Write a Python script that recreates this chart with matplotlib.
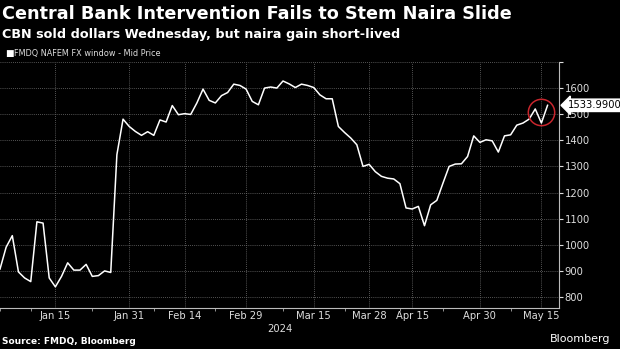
import numpy as np
import matplotlib.pyplot as plt

# FMDQ NAFEM mid price, one value per trading day (Jan 2 .. May 16, 2024)
price = [907, 991, 1035, 896, 873, 859, 1088, 1083, 873, 839,
         879, 931, 903, 903, 925, 879, 882, 900, 894, 1345,
         1481, 1453, 1434, 1419, 1433, 1419, 1478, 1470, 1533, 1498,
         1502, 1499, 1543, 1596, 1553, 1543, 1571, 1583, 1615, 1610,
         1596, 1549, 1536, 1600, 1604, 1600, 1627, 1616, 1602, 1615,
         1610, 1602, 1574, 1559, 1559, 1453, 1430, 1409, 1383, 1300,
         1308, 1280, 1262, 1255, 1252, 1234, 1141, 1137, 1147, 1073,
         1153, 1170, 1236, 1300, 1309, 1310, 1338, 1417, 1392, 1402,
         1398, 1355, 1417, 1421, 1458, 1466, 1481, 1520, 1466, 1533.99]
tick_idx = [9, 21, 30, 40, 51, 60, 67, 78, 88]
tick_labels = ["Jan 15", "Jan 31", "Feb 14", "Feb 29", "Mar 15",
               "Mar 28", "Apr 15", "Apr 30", "May 15"]
minor_idx = [0, 5, 15, 25, 35, 46, 56, 65, 72, 83]
y_ticks = [800, 900, 1000, 1100, 1200, 1300, 1400, 1500, 1600, 1700]

x = np.arange(len(price))

fig = plt.figure(figsize=(6.2, 3.49), dpi=100, facecolor="black")
ax = fig.add_axes([0, 0.1175, 0.902, 0.705], facecolor="black")

ax.plot(x, price, color="white", lw=1.1)

ax.set_xlim(0, 90.9)
ax.set_ylim(758, 1700)

ax.set_xticks(tick_idx)
ax.set_xticklabels(tick_labels)
ax.set_xticks(minor_idx, minor=True)
ax.set_yticks(y_ticks)
ax.set_yticklabels([str(v) for v in y_ticks[:-1]] + [""])

ax.yaxis.tick_right()
ax.tick_params(axis="y", colors="#dddddd", labelsize=7.2, length=3, width=0.8, pad=1)
ax.tick_params(axis="x", which="major", colors="#dddddd", labelsize=7.2, length=0, pad=2)
ax.tick_params(axis="x", which="minor", color="#aaaaaa", length=2.5, width=0.6)

ax.grid(True, color="#707070", linestyle=(0, (1, 1.5)), linewidth=0.6)
for side in ["top", "left"]:
    ax.spines[side].set_visible(False)
for side in ["right", "bottom"]:
    ax.spines[side].set_color("#bbbbbb")
    ax.spines[side].set_linewidth(0.8)

# highlight of the last moves
cx = x[-2]
cy = np.mean(price[-3:])
ax.plot([cx], [cy], marker="o", markersize=19, markerfacecolor="none",
        markeredgecolor="#c8262d", markeredgewidth=1.1, clip_on=False)

ax.annotate(f"{price[-1]:.4f}", xy=(1.0, price[-1]), xycoords=("axes fraction", "data"),
            xytext=(6, 0), textcoords="offset points", va="center", ha="left",
            fontsize=7.2, color="black",
            bbox=dict(boxstyle="larrow,pad=0.12", fc="white", ec="white"))

fig.text(0.004, 0.96, "Central Bank Intervention Fails to Stem Naira Slide",
         color="white", fontsize=12.7, fontweight="bold", va="center")
fig.text(0.004, 0.902, "CBN sold dollars Wednesday, but naira gain short-lived",
         color="white", fontsize=9.2, fontweight="bold", va="center")
fig.text(0.008, 0.847, "\u25a0", color="white", fontsize=6.5, va="center")
fig.text(0.023, 0.847, "FMDQ NAFEM FX window - Mid Price", color="#dddddd",
         fontsize=5.9, va="center")
fig.text(0.452, 0.058, "2024", color="#dddddd", fontsize=7.2, ha="center", va="center")
fig.text(0.004, 0.022, "Source: FMDQ, Bloomberg", color="white", fontsize=6.5,
         fontweight="bold", va="center")
fig.text(0.985, 0.028, "Bloomberg", color="white", fontsize=8, ha="right", va="center")

fig.savefig("out.png", dpi=100, facecolor="black")
